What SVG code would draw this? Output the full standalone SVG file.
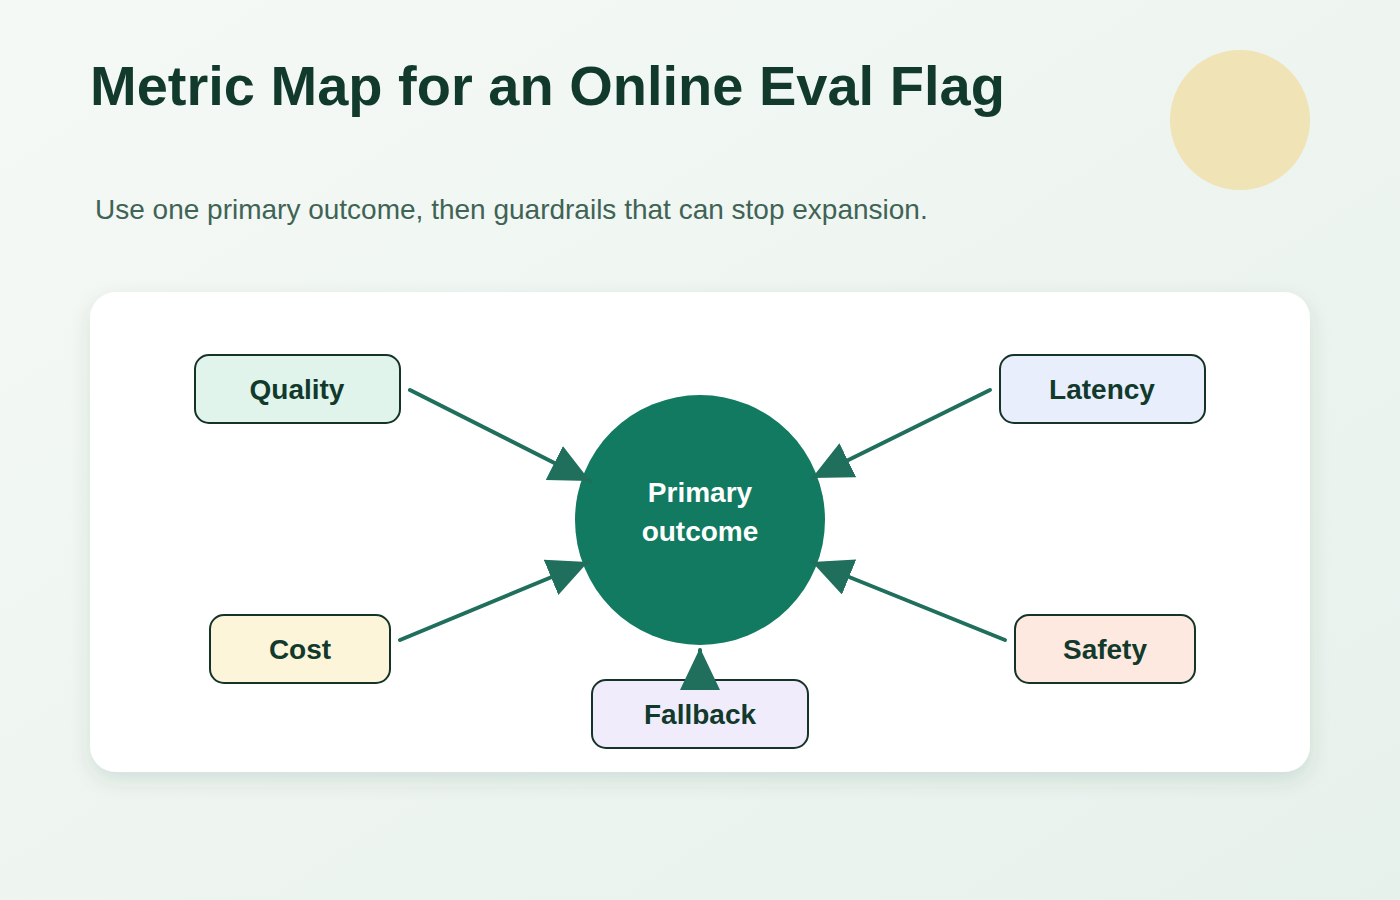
<svg xmlns="http://www.w3.org/2000/svg" width="1400" height="900" viewBox="0 0 1400 900">
<defs>
<linearGradient id="bg" x1="0" y1="0" x2="1" y2="1"><stop offset="0" stop-color="#f5f9f6"/><stop offset="1" stop-color="#e7f1ec"/></linearGradient>
<filter id="sh" x="-10%" y="-10%" width="120%" height="130%"><feDropShadow dx="0" dy="8" stdDeviation="10" flood-color="#1f4a3a" flood-opacity="0.12"/></filter>
<marker id="ah" markerUnits="userSpaceOnUse" markerWidth="40" markerHeight="38" refX="40" refY="19" orient="auto"><path d="M0,0 L40,19 L0,38 Z" fill="#1f6f5c"/></marker>
<style>
.n rect{stroke:#153427;stroke-width:2}
.t{font-family:"Liberation Sans",Arial,sans-serif;font-weight:bold;font-size:28px;fill:#123a2c;text-anchor:middle}
.c line{stroke:#1f6f5c;stroke-width:4;stroke-linecap:round;marker-end:url(#ah)}
</style>
</defs>
<rect width="1400" height="900" fill="url(#bg)"/>
<circle cx="1240" cy="120" r="70" fill="#f0e3b5"/>
<text x="90" y="105" font-family="Liberation Sans,Arial,sans-serif" font-weight="bold" font-size="56" fill="#123a2c">Metric Map for an Online Eval Flag</text>
<text x="95" y="219" font-family="Liberation Sans,Arial,sans-serif" font-size="28" fill="#3f6355">Use one primary outcome, then guardrails that can stop expansion.</text>
<rect x="90" y="292" width="1220" height="480" rx="26" fill="#ffffff" filter="url(#sh)"/>
<g id="primary"><circle cx="700" cy="520" r="125" fill="#117a60"/>
<text class="t" x="700" y="502" fill="#ffffff" style="fill:#fff">Primary</text>
<text class="t" x="700" y="541" style="fill:#fff">outcome</text></g>
<g class="c" id="connectors">
<line x1="410" y1="390" x2="590" y2="481"/>
<line x1="990" y1="390" x2="812" y2="478"/>
<line x1="400" y1="640" x2="588" y2="562"/>
<line x1="1005" y1="640" x2="812" y2="562"/>
<line x1="700" y1="690" x2="700" y2="650"/>
</g>
<g class="n" id="quality"><rect x="195" y="355" width="205" height="68" rx="14" fill="#e0f4ec"/><text class="t" x="297" y="399">Quality</text></g>
<g class="n" id="latency"><rect x="1000" y="355" width="205" height="68" rx="14" fill="#e8eefc"/><text class="t" x="1102" y="399">Latency</text></g>
<g class="n" id="cost"><rect x="210" y="615" width="180" height="68" rx="14" fill="#fdf5da"/><text class="t" x="300" y="659">Cost</text></g>
<g class="n" id="safety"><rect x="1015" y="615" width="180" height="68" rx="14" fill="#fde9e0"/><text class="t" x="1105" y="659">Safety</text></g>
<g class="n" id="fallback"><rect x="592" y="680" width="216" height="68" rx="14" fill="#f0ecfc"/><text class="t" x="700" y="724">Fallback</text></g>
<polygon points="700,648 720,690 680,690" fill="#1f6f5c"/>
</svg>
